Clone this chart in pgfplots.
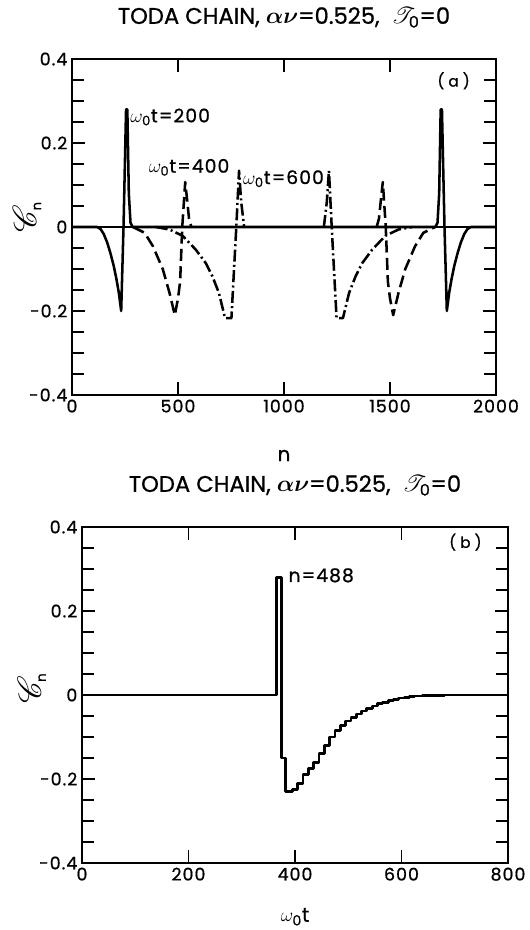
\documentclass[border=0pt]{standalone}
\usepackage{amsmath}
\usepackage{mathrsfs}
\usepackage{fontspec}
\setmainfont{Poppins}[FakeBold=0.8]
\newfontfamily\tickfont[LetterSpace=6,FakeBold=0.8]{Poppins}
\usepackage{pgfplots}
\pgfplotsset{compat=1.18}

\pgfplotstableread{
n v
0 0
118 0
135 -0.005
150 -0.017
166 -0.037
180 -0.06
197 -0.093
210 -0.125
221 -0.157
232 -0.20
243 0.0
255 0.28
261 0.28
268 0.08
276 0.01
286 0
1714 0
1724 0.01
1732 0.08
1739 0.28
1745 0.28
1757 0.0
1768 -0.20
1779 -0.157
1790 -0.125
1803 -0.093
1820 -0.06
1834 -0.037
1850 -0.017
1865 -0.005
1882 0
2000 0
}\solid

\pgfplotstableread{
n v
288 0
343 -0.014
382 -0.046
428 -0.10
460 -0.157
485 -0.21
500 -0.17
510 -0.13
520 0.0
534 0.107
544 0.06
552 0.02
563 0
}\dashL
\pgfplotstableread{
n v
1437 0
1448 0.02
1456 0.06
1466 0.107
1480 0.0
1490 -0.13
1500 -0.17
1515 -0.21
1540 -0.157
1572 -0.10
1618 -0.046
1657 -0.014
1712 0
}\dashR

\pgfplotstableread{
n v
395 0
460 -0.006
522 -0.021
584 -0.054
631 -0.086
662 -0.117
693 -0.157
722 -0.217
752 -0.217
775 0.0
788 0.134
798 0.06
812 0
}\ddL
\pgfplotstableread{
n v
1188 0
1202 0.06
1212 0.134
1225 0.0
1248 -0.217
1278 -0.217
1307 -0.157
1338 -0.117
1369 -0.086
1416 -0.054
1478 -0.021
1540 -0.006
1605 0
}\ddR

\pgfplotstableread{
t v
0 0
366 0.28
375 -0.15
382 -0.23
395 -0.225
405 -0.21
415 -0.19
425 -0.175
435 -0.16
445 -0.14
455 -0.12
465 -0.10
475 -0.085
485 -0.073
495 -0.062
505 -0.053
515 -0.045
525 -0.038
535 -0.032
545 -0.026
555 -0.021
565 -0.017
575 -0.013
585 -0.010
595 -0.007
605 -0.005
615 -0.0035
625 -0.0025
640 -0.0015
660 -0.0008
680 0
800 0
}\tser

\tikzset{lab/.style={font=\tickfont\fontsize{14}{15}\selectfont, inner sep=1pt}}

\pgfplotsset{
  myax/.style={
    scale only axis,
    axis line style={line width=1.5pt},
    major tick length=10pt,
    minor tick length=9pt,
    every tick/.append style={black, line width=1.2pt},
    tick label style={font=\tickfont\fontsize{13}{14}\selectfont},
    ymin=-0.4, ymax=0.4,
    ytick={-0.4,-0.2,0,0.2,0.4},
    yticklabels={{-0.4},{-0.2},{0},{0.2},{0.4}},
    minor ytick={-0.35,-0.3,-0.25,-0.15,-0.1,-0.05,0.05,0.1,0.15,0.25,0.3,0.35},
    title style={at={(axis description cs:0.5,1.1)}, anchor=center, font=\fontsize{17}{19}\selectfont},
    xlabel style={anchor=center, font=\fontsize{15}{16}\selectfont},
    ylabel style={anchor=center, font=\fontsize{26}{28}\selectfont},
    ylabel={$\mathscr{C}_{\text{\normalsize n}}$},
    title={TODA CHAIN, $\boldsymbol{\alpha\nu}$=0.525, \ $\mathscr{T}_{\text{0}}$=0},
  },
  curve/.style={black, line width=1.9pt, line join=round, no marks},
}

\begin{document}
\begin{tikzpicture}
\path[use as bounding box] (0,0) rectangle (397.5pt,697.5pt);

\begin{axis}[myax,
  at={(54pt,401.25pt)}, anchor=south west,
  width=318pt, height=252pt,
  xmin=0, xmax=2000,
  xtick={0,500,1000,1500,2000},
  xticklabels={{0},{500},{1000},{1500},{2000}},
  xlabel={n},
  xlabel style={at={(axis description cs:0.5,-0.18)}},
  ylabel style={at={(axis description cs:-0.106,0.53)}},
]
\addplot[black, line width=1.2pt] coordinates {(0,0) (2000,0)};
\addplot[curve] table[x=n,y=v] {\solid};
\addplot[curve, dash pattern=on 9pt off 4pt] table[x=n,y=v] {\dashL};
\addplot[curve, dash pattern=on 9pt off 4pt] table[x=n,y=v] {\dashR};
\addplot[curve, dash pattern=on 9pt off 2.5pt on 1.5pt off 2.5pt] table[x=n,y=v] {\ddL};
\addplot[curve, dash pattern=on 9pt off 2.5pt on 1.5pt off 2.5pt] table[x=n,y=v] {\ddR};
\node[lab, anchor=west] at (axis cs:268,0.262) {$\omega_{\text{0}}$t=200};
\node[lab, anchor=center] at (axis cs:552,0.142) {$\omega_{\text{0}}$t=400};
\node[lab, anchor=west] at (axis cs:800,0.115) {$\omega_{\text{0}}$t=600};
\node[font=\fontsize{11.5}{12}\selectfont] at (rel axis cs:0.9,0.935) {( a )};
\end{axis}

\begin{axis}[myax,
  at={(61.5pt,50.25pt)}, anchor=south west,
  width=319.5pt, height=252pt,
  xmin=0, xmax=800,
  xtick={0,200,400,600,800},
  xticklabels={{0},{200},{400},{600},{800}},
  xlabel={$\omega_{\text{0}}$t},
  xlabel style={at={(axis description cs:0.5,-0.16)}},
  ylabel style={at={(axis description cs:-0.118,0.52)}},
]
\addplot[const plot, black, line width=2.1pt, line join=round, no marks] table[x=t,y=v] {\tser};
\node[lab, anchor=west] at (axis cs:385,0.285) {n=488};
\node[font=\fontsize{11.5}{12}\selectfont] at (rel axis cs:0.9,0.955) {( b )};
\end{axis}
\end{tikzpicture}
\end{document}
